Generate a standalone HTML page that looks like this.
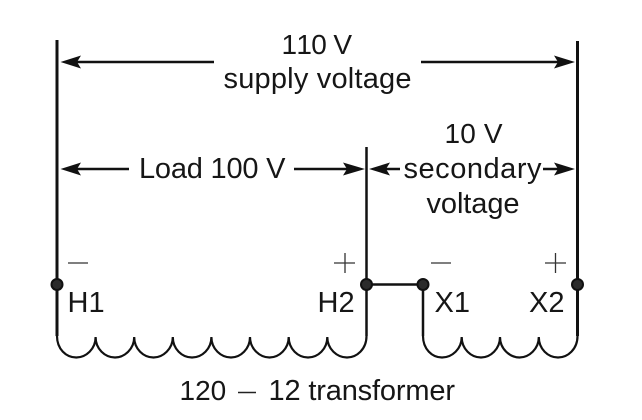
<!DOCTYPE html>
<html>
<head>
<meta charset="utf-8">
<style>
html,body{margin:0;padding:0;background:#fff;}
svg{display:block;}
text{font-family:"Liberation Sans",sans-serif;font-size:29px;fill:#161616;font-kerning:none;}
text.n{font-size:28px;}
</style>
</head>
<body>
<svg width="642" height="420" viewBox="0 0 642 420" xmlns="http://www.w3.org/2000/svg">
<rect width="642" height="420" fill="#fff"/>
<g stroke="#111" fill="none">
<path d="M57 40V336M577.500 41V336" stroke-width="3"/>
<path d="M366.500 147V336M423 284V336" stroke-width="2.500"/>
<path d="M366 284.500H423" stroke-width="2.500"/>
<path d="M70 62H214M421 62H565M70 169H129M294 169H355M380 169H400M543 169H565" stroke-width="2.500"/>
<path stroke-width="2.200" d="M57 336C57 349 66 357.500 76.300 357.500C86 357.500 95.600 349 95.600 337C95.600 349 105 357.500 115 357.500C124.500 357.500 134.200 349 134.200 337C134.200 349 143.500 357.500 153.500 357.500C163 357.500 172.800 349 172.800 337C172.800 349 182 357.500 192 357.500C202 357.500 211.400 349 211.400 337C211.400 349 221 357.500 231 357.500C240.500 357.500 250 349 250 337C250 349 260 357.500 269.500 357.500C279 357.500 288.700 349 288.700 337C288.700 349 298 357.500 308 357.500C318 357.500 327.300 349 327.300 337C327.300 349 337 357.500 347 357.500C357 357.500 366.500 349 366.500 336"/>
<path stroke-width="2.200" d="M423 336C423 349 432 357.500 442 357.500C452 357.500 461.700 349 461.700 337C461.700 349 471 357.500 481 357.500C490.500 357.500 500 349 500 337C500 349 510 357.500 519.500 357.500C529 357.500 538.800 349 538.800 337C538.800 349 548 357.500 558 357.500C568 357.500 577.500 349 577.500 336"/>
<path d="M68 263H88M431 263H451M334 263H355M345 253V273M545 263H566M555.500 253V273" stroke-width="1.300" stroke="#333"/>
</g>
<g fill="#111">
<path d="M60.500 62L81 55.500L77 62L81 68.500Z"/>
<path d="M575 62L554 55.500L558 62L554 68.500Z"/>
<path d="M60.500 169L81 162.500L77 169L81 175.500Z"/>
<path d="M365 169L343 162.500L347 169L343 175.500Z"/>
<path d="M369 169L390 162.500L386 169L390 175.500Z"/>
<path d="M575 169L554 162.500L558 169L554 175.500Z"/>
</g>
<g fill="#2b2b2b" stroke="#111" stroke-width="2">
<circle cx="57" cy="284.500" r="5.500"/>
<circle cx="366.500" cy="284.500" r="5.500"/>
<circle cx="423" cy="284.500" r="5.500"/>
<circle cx="577.500" cy="284.500" r="5.500"/>
</g>
<text class="n" x="281.500" y="54" textLength="70.500">110 V</text>
<text x="223.500" y="88" textLength="188">supply voltage</text>
<text x="139" y="178" textLength="146.500">Load 100 V</text>
<text class="n" x="444.500" y="143" textLength="58">10 V</text>
<text x="403.500" y="178" textLength="138">secondary</text>
<text x="426.500" y="213" textLength="93">voltage</text>
<text x="67.500" y="312">H1</text>
<text x="317.500" y="312">H2</text>
<text x="434.500" y="312">X1</text>
<text x="529" y="312">X2</text>
<text class="n" x="179.500" y="400">120</text>
<path d="M238 392.500H256" stroke="#222" stroke-width="1.600"/>
<text x="268.500" y="400" textLength="186.500">12 transformer</text>
</svg>
</body>
</html>
